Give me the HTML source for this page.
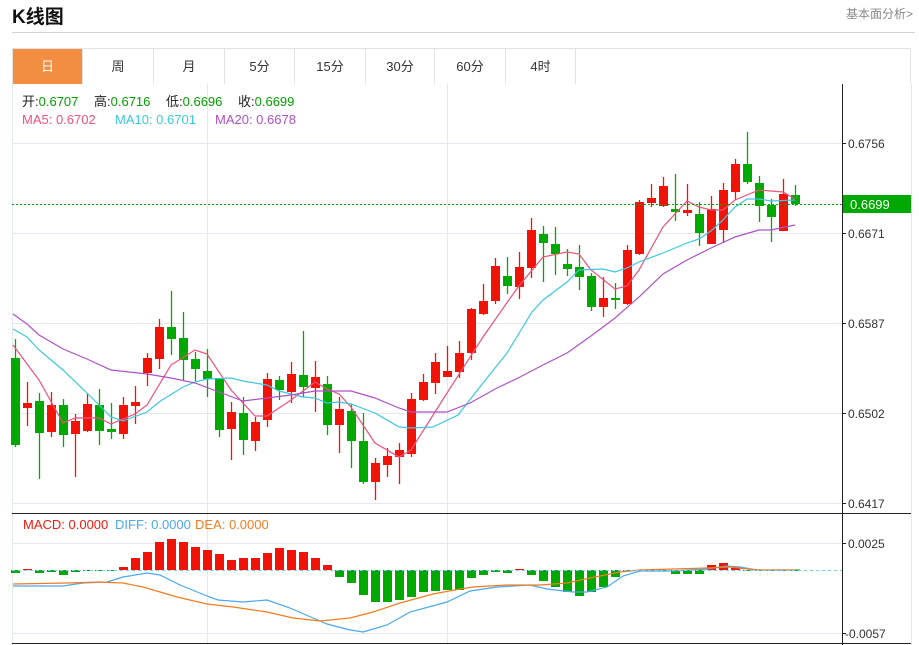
<!DOCTYPE html>
<html><head><meta charset="utf-8"><style>
body{margin:0;width:919px;height:645px;background:#fff;font-family:"Liberation Sans","Noto Sans CJK SC",sans-serif;overflow:hidden;position:relative}
.t{position:absolute;left:12px;top:2px;font-size:19px;font-weight:bold;color:#111}
.r{position:absolute;right:6px;top:5px;font-size:12px;color:#888}
.hr{position:absolute;left:12px;right:4px;top:32px;border-top:1px solid #d0d0d0}
.tabs{position:absolute;left:12px;top:48px;width:899px;height:36px;border:1px solid #e3e3e3;border-bottom:none;box-sizing:border-box}
.tab{position:absolute;top:0;height:35px;line-height:35px;text-align:center;font-size:13px;color:#333;border-right:1px solid #e3e3e3;box-sizing:border-box}
</style></head><body>
<div class="t">K线图</div><div class="r">基本面分析&gt;</div><div class="hr"></div>
<div class="tabs">
<div class="tab" style="left:0;width:70px;background:#f38d42;color:#fff">日</div>
<div class="tab" style="left:70px;width:71px">周</div>
<div class="tab" style="left:141px;width:71px">月</div>
<div class="tab" style="left:212px;width:70px">5分</div>
<div class="tab" style="left:282px;width:71px">15分</div>
<div class="tab" style="left:353px;width:69px">30分</div>
<div class="tab" style="left:422px;width:71px">60分</div>
<div class="tab" style="left:493px;width:70px">4时</div>
</div>
<svg id="s" width="919" height="645" style="position:absolute;left:0;top:0" font-family="Liberation Sans, Noto Sans CJK SC, sans-serif">
<g stroke="#e3e8ee" stroke-width="1">
<line x1="12" y1="143.5" x2="842" y2="143.5"/><line x1="12" y1="233.5" x2="842" y2="233.5"/><line x1="12" y1="323.5" x2="842" y2="323.5"/><line x1="12" y1="413.5" x2="842" y2="413.5"/><line x1="12" y1="503.5" x2="842" y2="503.5"/>
<line x1="207.5" y1="84" x2="207.5" y2="513"/><line x1="447.5" y1="84" x2="447.5" y2="513"/>
<line x1="12" y1="543.5" x2="842" y2="543.5"/><line x1="12" y1="633.5" x2="842" y2="633.5"/>
<line x1="207.5" y1="513" x2="207.5" y2="643"/><line x1="447.5" y1="513" x2="447.5" y2="643"/>
<line x1="12.5" y1="84" x2="12.5" y2="645"/><line x1="911.5" y1="84" x2="911.5" y2="645"/>
</g>
<line x1="12" y1="513.5" x2="911" y2="513.5" stroke="#222"/>
<line x1="12" y1="643.5" x2="911" y2="643.5" stroke="#222"/>
<line x1="842.5" y1="84" x2="842.5" y2="645" stroke="#222"/>
<g stroke="#222"><line x1="842" y1="143.5" x2="846" y2="143.5"/><line x1="842" y1="233.5" x2="846" y2="233.5"/><line x1="842" y1="323.5" x2="846" y2="323.5"/><line x1="842" y1="413.5" x2="846" y2="413.5"/><line x1="842" y1="503.5" x2="846" y2="503.5"/><line x1="842" y1="543.5" x2="846" y2="543.5"/><line x1="842" y1="633.5" x2="846" y2="633.5"/></g>
<g font-size="12" fill="#333"><text x="848" y="148">0.6756</text><text x="848" y="238">0.6671</text><text x="848" y="328">0.6587</text><text x="848" y="418">0.6502</text><text x="848" y="508">0.6417</text><text x="848" y="548">0.0025</text><text x="845" y="638">-0.0057</text></g>
<g id="c"></g>
<line x1="12" y1="204.5" x2="842" y2="204.5" stroke="#00a800" stroke-dasharray="2,2"/>
<rect x="843" y="195" width="68" height="18" fill="#00a800"/><text x="850" y="209" font-size="13" fill="#fff">0.6699</text>
<line x1="12" y1="570.5" x2="842" y2="570.5" stroke="#7ccfee" stroke-dasharray="3,3"/>
<g font-size="13">
<text x="22" y="106" fill="#222">开:<tspan fill="#00a000">0.6707</tspan></text>
<text x="94" y="106" fill="#222">高:<tspan fill="#00a000">0.6716</tspan></text>
<text x="166" y="106" fill="#222">低:<tspan fill="#00a000">0.6696</tspan></text>
<text x="238" y="106" fill="#222">收:<tspan fill="#00a000">0.6699</tspan></text>
<text x="22" y="124" fill="#f0527a">MA5: 0.6702</text><text x="115" y="124" fill="#3cc8e0">MA10: 0.6701</text><text x="215" y="124" fill="#b050c8">MA20: 0.6678</text>
<text x="23" y="529" fill="#f01c0c">MACD: 0.0000</text><text x="115" y="529" fill="#4aa8f0">DIFF: 0.0000</text><text x="195" y="529" fill="#f57b20">DEA: 0.0000</text>
</g>
</svg>
<script>
var R='#f01408',G='#00a800';
var d=[[358,445,339,447,G],[403,408,382,426,R],[401,433,393,479,G],[405,432,392,437,R],[405,435,399,447,G],[421,434,414,477,R],[404,431,393,432,R],[405,431,389,445,G],[429,432,403,439,G],[405,434,397,439,R],[402,406,386,424,R],[358,373,353,386,R],[327,359,319,369,R],[327,339,291,355,G],[338,360,312,380,G],[359,369,352,381,G],[371,379,349,397,G],[378,430,378,437,G],[412,429,402,460,R],[413,440,397,455,G],[422,441,417,451,R],[379,420,373,427,R],[380,390,376,400,G],[374,392,362,403,R],[375,387,331,397,G],[377,388,361,412,R],[384,425,376,435,G],[409,425,397,453,R],[411,441,404,468,G],[441,482,413,484,G],[463,482,458,500,R],[456,465,448,477,R],[450,457,443,484,R],[399,454,393,457,R],[382,400,374,401,R],[362,383,353,394,R],[371,377,346,377,R],[353,372,341,378,R],[309,353,308,360,R],[301,314,284,315,R],[266,301,258,304,R],[276,286,257,294,G],[267,287,252,299,R],[230,268,218,278,R],[234,243,226,282,G],[244,254,227,275,G],[264,269,249,276,G],[267,277,245,290,G],[276,307,273,311,G],[298,307,277,317,R],[298,300,283,309,G],[250,304,245,305,R],[202,254,200,255,R],[198,203,184,207,R],[186,206,177,207,R],[209,212,174,221,G],[210,213,184,216,R],[214,233,202,246,G],[209,244,196,244,R],[190,230,183,243,R],[164,192,159,200,R],[164,182,132,184,G],[183,206,176,222,G],[205,217,199,242,G],[194,231,179,231,R],[195,204,185,206,G]];
var m=[573,569,573,572,575,572,571,571,571,567,558,552,542,539,542,547,550,554,560,558,558,553,548,550,552,558,565,577,583,595,602,602,600,597,592,591,590,590,578,575,572,573,569,575,581,587,592,596,592,587,577,571,571,571,571,574,574,574,565,563,568,571,570,570,570,570];
var h='';
d.forEach(function(c,i){var x=15.5+12*i;var bh=Math.max(1,c[1]-c[0]);
h+='<line x1="'+x+'" y1="'+c[2]+'" x2="'+x+'" y2="'+c[3]+'" stroke="'+c[4]+'" stroke-width="1.3"/>';
h+='<rect x="'+(x-4.5)+'" y="'+c[0]+'" width="9" height="'+bh+'" fill="'+c[4]+'"/>';
var v=m[i];var t=Math.min(v,570),b=Math.max(v,570);if(b-t<1){t=569.5;b=571}
h+='<rect x="'+(x-4.5)+'" y="'+t+'" width="9" height="'+(b-t)+'" fill="'+(v<570?R:G)+'"/>';});
function pl(p,col){return '<polyline fill="none" stroke="'+col+'" stroke-width="1.2" points="'+p+'"/>';}
h+=pl('13,345 39,380 63,423 75,418 99,418 111,424 135,414 147,405 171,365 195,350 207,354 231,390 255,416 267,416 291,400 315,382 327,389 339,394 351,407 375,443 399,457 411,450 447,393 483,337 518,287 543,257 567,252 579,254 591,270 615,289 627,286 639,270 663,227 687,201 699,207 711,210 723,210 735,200 759,190 783,192 795,199','#f0527a');
h+=pl('13,329 27,337 39,350 63,370 87,393 111,417 123,421 147,412 159,402 183,387 195,382 207,379 231,378 243,381 267,385 279,391 303,397 315,398 327,403 339,402 351,404 375,413 399,427 411,428 433,427 458,415 483,383 507,353 532,312 543,300 567,282 579,270 603,269 615,272 627,268 639,262 663,253 687,243 699,239 711,231 723,220 735,207 747,199 759,199 771,201 795,200','#3cc8e0');
h+=pl('13,314 27,324 39,335 63,349 87,359 111,370 147,374 171,378 195,383 219,392 243,401 267,398 291,395 315,391 351,391 375,398 399,408 411,412 447,412 470,403 497,388 518,378 543,365 567,353 591,336 615,318 639,297 663,274 687,260 711,248 735,237 759,230 771,230 795,225','#b050c8');
h+=pl('13,586 40,586 63,586 83,583 107,582 123,577 147,573 160,575 180,585 207,596 218,600 243,602 267,600 290,608 313,618 327,624 350,630 363,632 387,625 410,612 447,602 470,591 497,587 530,585 547,589 573,592 587,592 607,587 623,576 640,571 673,571 707,569 727,566 740,567 757,570 795,570','#4aa8f0');
h+=pl('13,584 67,583 100,582 123,583 143,587 177,597 207,604 233,607 267,612 293,618 320,621 350,618 373,612 400,603 433,594 460,589 473,587 507,585 540,585 567,583 590,578 620,572 640,570 707,568 730,567 757,570 795,570','#f57b20');
document.getElementById('c').innerHTML=h;
</script>
</body></html>
